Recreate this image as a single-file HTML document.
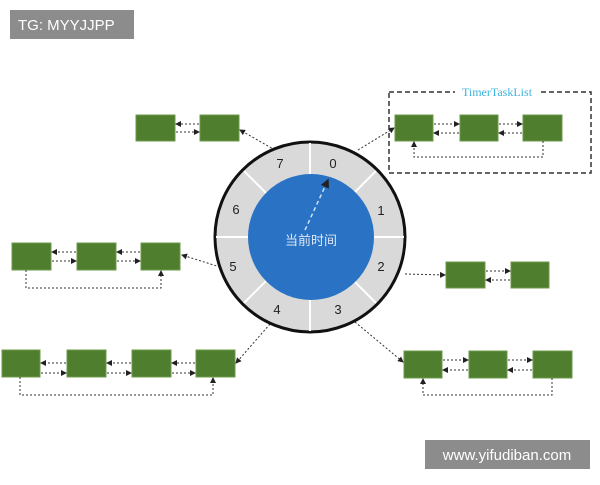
<!DOCTYPE html>
<html><head><meta charset="utf-8"><style>body{margin:0;background:#fff;width:600px;height:480px;overflow:hidden}</style></head><body>
<svg width="600" height="480" viewBox="0 0 600 480" xmlns="http://www.w3.org/2000/svg" font-family="Liberation Sans, Noto Sans CJK SC, sans-serif">
<defs><marker id="a" markerWidth="6" markerHeight="6" refX="5" refY="3" orient="auto"><path d="M0,0L6,3L0,6z" fill="#222"/></marker></defs>
<g fill="#4f7f2e" stroke="#6c9a4a" stroke-width="1">
<rect x="136" y="115" width="39" height="26"/><rect x="200" y="115" width="39" height="26"/>
<rect x="395" y="115" width="38" height="26"/><rect x="460" y="115" width="38" height="26"/><rect x="523" y="115" width="39" height="26"/>
<rect x="12" y="243" width="39" height="27"/><rect x="77" y="243" width="39" height="27"/><rect x="141" y="243" width="39" height="27"/>
<rect x="446" y="262" width="39" height="26"/><rect x="511" y="262" width="38" height="26"/>
<rect x="2" y="350" width="38" height="27"/><rect x="67" y="350" width="39" height="27"/><rect x="132" y="350" width="39" height="27"/><rect x="196" y="350" width="39" height="27"/>
<rect x="404" y="351" width="38" height="27"/><rect x="469" y="351" width="38" height="27"/><rect x="533" y="351" width="39" height="27"/>
</g>
<g stroke="#333" stroke-width="1" stroke-dasharray="2,2" fill="none" marker-end="url(#a)">
<line x1="199" y1="124" x2="176" y2="124"/><line x1="176" y1="132" x2="199" y2="132"/>
<line x1="434" y1="124" x2="459" y2="124"/><line x1="459" y1="133" x2="434" y2="133"/>
<line x1="499" y1="124" x2="522" y2="124"/><line x1="522" y1="133" x2="499" y2="133"/>
<polyline points="543,141 543,157 414,157 414,142"/>
<line x1="76" y1="252" x2="52" y2="252"/><line x1="52" y1="261" x2="76" y2="261"/>
<line x1="140" y1="252" x2="117" y2="252"/><line x1="117" y1="261" x2="140" y2="261"/>
<polyline points="26,270 26,288 161,288 161,271"/>
<line x1="486" y1="271" x2="510" y2="271"/><line x1="510" y1="280" x2="486" y2="280"/>
<line x1="66" y1="363" x2="41" y2="363"/><line x1="41" y1="373" x2="66" y2="373"/>
<line x1="131" y1="363" x2="107" y2="363"/><line x1="107" y1="373" x2="131" y2="373"/>
<line x1="195" y1="363" x2="172" y2="363"/><line x1="172" y1="373" x2="195" y2="373"/>
<polyline points="20,377 20,395 213,395 213,378"/>
<line x1="443" y1="360" x2="468" y2="360"/><line x1="468" y1="370" x2="443" y2="370"/>
<line x1="508" y1="360" x2="532" y2="360"/><line x1="532" y1="370" x2="508" y2="370"/>
<polyline points="552,378 552,395 423,395 423,379"/>
<line x1="275" y1="150" x2="240" y2="130"/>
<line x1="358" y1="150" x2="394" y2="128"/>
<line x1="220" y1="267" x2="182" y2="255"/>
<line x1="405" y1="274" x2="445" y2="275"/>
<line x1="270" y1="324" x2="236" y2="363"/>
<line x1="355" y1="322" x2="403" y2="362"/>
</g>
<rect x="389" y="92" width="202" height="81" fill="none" stroke="#333" stroke-width="1.5" stroke-dasharray="5,3"/>
<rect x="455" y="84" width="84" height="14" fill="#fff"/>
<text x="497" y="96" font-family="Liberation Serif, serif" font-size="12" fill="#3cb4e0" text-anchor="middle">TimerTaskList</text>
<circle cx="310" cy="237" r="95" fill="#d9d9d9" stroke="#111" stroke-width="3"/>
<g stroke="#fff" stroke-width="2">
<line x1="310" y1="143" x2="310" y2="331"/><line x1="216" y1="237" x2="404" y2="237"/>
<line x1="244" y1="171" x2="376" y2="303"/><line x1="376" y1="171" x2="244" y2="303"/>
</g>
<circle cx="311" cy="237" r="63" fill="#2a72c4"/>
<line x1="305" y1="230" x2="328" y2="180" stroke="#cfe0f5" stroke-width="1.5" stroke-dasharray="4,3" marker-end="url(#a)"/>
<text x="311" y="245" font-size="13" fill="#dde8f7" text-anchor="middle">当前时间</text>
<g font-size="13" fill="#222" text-anchor="middle">
<text x="333" y="168">0</text><text x="381" y="215">1</text><text x="381" y="271">2</text><text x="338" y="314">3</text>
<text x="277" y="314">4</text><text x="233" y="271">5</text><text x="236" y="214">6</text><text x="280" y="168">7</text>
</g>
<rect x="10" y="10" width="124" height="29" fill="#8c8c8c"/>
<text x="18" y="30" font-size="15" fill="#fff">TG: MYYJJPP</text>
<rect x="425" y="440" width="165" height="29" fill="#8c8c8c"/>
<text x="507" y="460" font-size="15" fill="#fff" text-anchor="middle">www.yifudiban.com</text>
</svg>
</body></html>
